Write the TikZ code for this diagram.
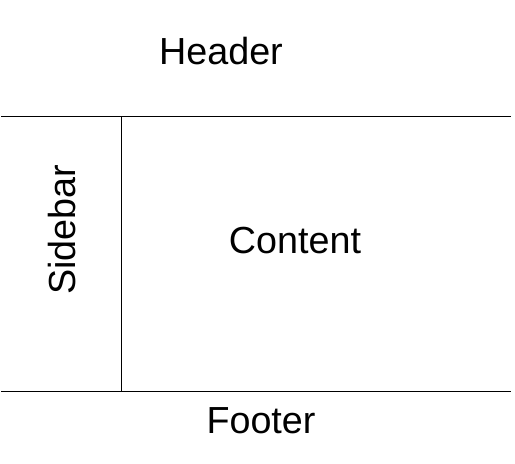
\documentclass[tikz,border=0pt]{standalone}
\usepackage{fontspec}
\setmainfont{Liberation Sans}
\begin{document}
\begin{tikzpicture}[x=1pt,y=-1pt,
  lbl/.style={font=\fontsize{37.7}{40}\selectfont, inner sep=0pt},
  rule/.style={line width=1pt, draw=black}]
\useasboundingbox (0,0) rectangle (515,464);
\coordinate (tl) at (1,116.5);
\coordinate (tr) at (511,116.5);
\coordinate (bl) at (1,391.5);
\coordinate (br) at (511,391.5);
\coordinate (st) at (121.5,116.5);
\coordinate (sb) at (121.5,391.5);
\draw[rule] (tl) -- (tr);
\draw[rule] (bl) -- (br);
\draw[rule] (st) -- (sb);
\node[lbl] (header) at (221,51) {Header};
\node[lbl] (content) at (295,241) {Content};
\node[lbl, rotate=90] (sidebar) at (62,230) {Sidebar};
\node[lbl] (footer) at (261,421) {Footer};
\end{tikzpicture}
\end{document}
